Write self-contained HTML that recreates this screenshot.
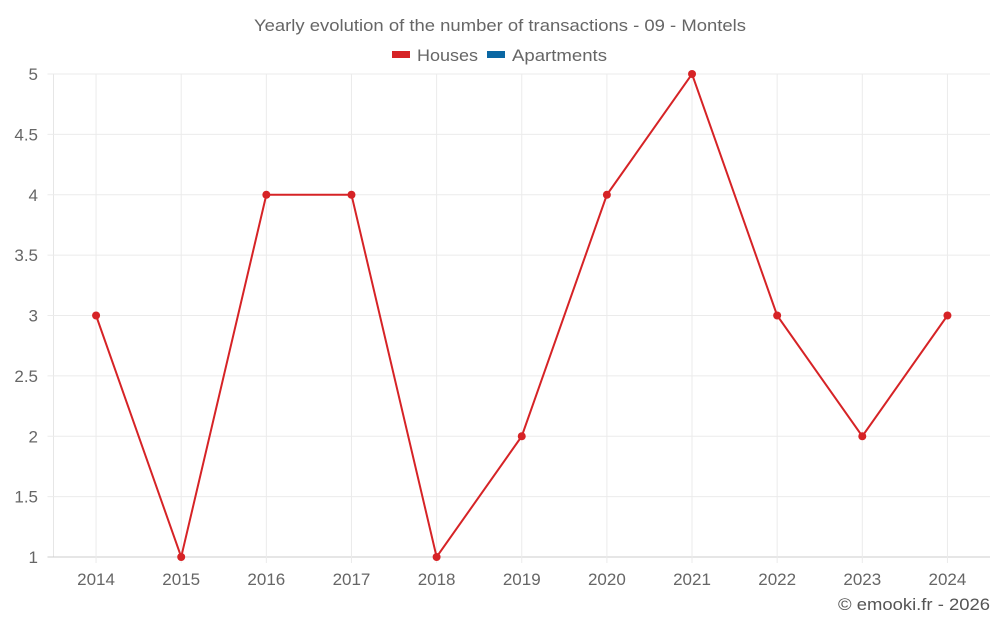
<!DOCTYPE html>
<html><head><meta charset="utf-8"><style>
body{margin:0;background:#fff;width:1000px;height:625px;overflow:hidden;font-family:"Liberation Sans",sans-serif}
</style></head><body>
<svg id="chart" width="1000" height="625" xmlns="http://www.w3.org/2000/svg" font-family="Liberation Sans, sans-serif">
<text x="254" y="31" font-size="17" fill="#666" textLength="492" lengthAdjust="spacingAndGlyphs">Yearly evolution of the number of transactions - 09 - Montels</text>
<g><rect x="392" y="51" width="18" height="7" fill="#d62326"/><text x="417" y="61" font-size="17" fill="#666" textLength="61" lengthAdjust="spacingAndGlyphs">Houses</text></g>
<g><rect x="487" y="51" width="18" height="7" fill="#0a67a3"/><text x="512" y="61" font-size="17" fill="#666" textLength="95" lengthAdjust="spacingAndGlyphs">Apartments</text></g>
<g id="grid"></g>
<g id="marks"></g>
<text x="838" y="610" font-size="17" fill="#555" textLength="152" lengthAdjust="spacingAndGlyphs">© emooki.fr - 2026</text>
</svg>
<script>
const years=["2014","2015","2016","2017","2018","2019","2020","2021","2022","2023","2024"];
const houses=[3,1,4,4,1,2,4,5,3,2,3];
const yTicks=[1,1.5,2,2.5,3,3.5,4,4.5,5];
const L=53.5,R=990,T=74,B=557,ymin=1,ymax=5;
const bw=(R-L)/years.length;
const x=i=>L+bw*(i+0.5);
const y=v=>B-(v-ymin)/(ymax-ymin)*(B-T);
const NS="http://www.w3.org/2000/svg";
const g=document.getElementById('grid'),m=document.getElementById('marks');
function mk(tag,a,p){const e=document.createElementNS(NS,tag);for(const k in a)e.setAttribute(k,a[k]);p.appendChild(e);return e;}
let l=mk('line',{x1:L,x2:L,y1:T,y2:B,stroke:'#e6e6e6'},g);


yTicks.forEach(v=>{
 const ln=mk('line',{x1:L-6,x2:R,y1:y(v),y2:y(v),stroke:v===ymin?'#ccc':'#ebebeb'},g);
 
 
 const t=mk('text',{x:38,y:y(v)+6,'text-anchor':'end','font-size':17,fill:'#666'},g);
 t.textContent=v;
 
 
});
years.forEach((yr,i)=>{
 const ln=mk('line',{x1:x(i),x2:x(i),y1:T,y2:B+6,stroke:'#ebebeb'},g);
 
 
 const t=mk('text',{x:x(i),y:585,'text-anchor':'middle','font-size':17,fill:'#666'},g);
 t.textContent=yr;
 
 
});
const pl=mk('polyline',{points:houses.map((v,i)=>x(i)+','+y(v)).join(' '),fill:'none',stroke:'#d62326','stroke-width':2},m);


houses.forEach((v,i)=>{
 const c=mk('circle',{cx:x(i),cy:y(v),r:4,fill:'#d62326'},m);
 
 
});
</script>
</body></html>
